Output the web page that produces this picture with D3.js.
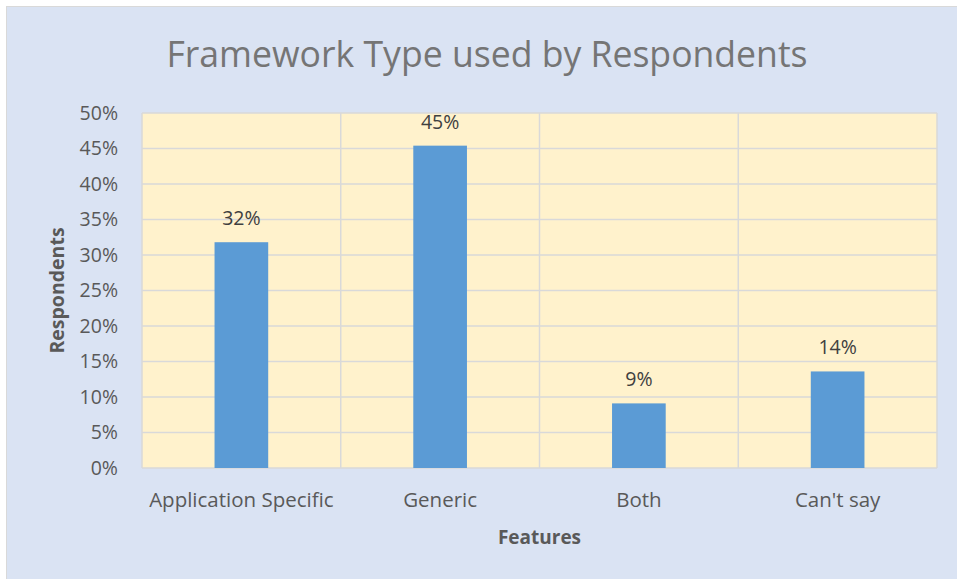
<!DOCTYPE html>
<html>
<head>
    <title>Framework Type used by Respondents</title>
    <script src="https://d3js.org/d3.v7.min.js"></script>
    <style>
        body {
            margin: 0;
            background: #ffffff;
        }
        svg text {
            font-family: "Open Sans", Lato, sans-serif;
        }
    </style>
</head>
<body>
    <div id="chart"></div>

    <script>
        // chart data
        const categories = ["Application Specific", "Generic", "Both", "Can't say"];
        const shares = [0.318, 0.454, 0.091, 0.136];
        const yTicks = [0, 0.05, 0.10, 0.15, 0.20, 0.25, 0.30, 0.35, 0.40, 0.45, 0.50];

        const width = 957;
        const height = 579;
        const margin = {top: 113, right: 20, bottom: 111, left: 142};

        const svg = d3.select("#chart")
            .append("svg")
            .attr("width", width)
            .attr("height", height);

        // outer chart area
        svg.append("rect")
            .attr("x", 6.5)
            .attr("y", 6.5)
            .attr("width", width)
            .attr("height", height)
            .attr("fill", "#dae3f3")
            .attr("stroke", "#d9d9d9")
            .attr("stroke-width", 1);

        const x = d3.scaleBand()
            .domain(categories)
            .range([margin.left, width - margin.right])
            .paddingInner(0)
            .paddingOuter(0);

        const y = d3.scaleLinear()
            .domain([0, 0.5])
            .range([height - margin.bottom, margin.top]);

        const fmt = d3.format(".0%");

        // plot area
        svg.append("rect")
            .attr("x", x.range()[0])
            .attr("y", y(0.5))
            .attr("width", x.range()[1] - x.range()[0])
            .attr("height", y(0) - y(0.5))
            .attr("fill", "#fff2cc");

        // horizontal gridlines
        svg.append("g")
            .selectAll("line")
            .data(yTicks)
            .join("line")
            .attr("x1", x.range()[0])
            .attr("x2", x.range()[1])
            .attr("y1", d => y(d))
            .attr("y2", d => y(d))
            .attr("stroke", "#d9d9d9")
            .attr("stroke-width", 1.5);

        // vertical gridlines at category boundaries
        const bounds = categories.map(c => x(c)).concat([x.range()[1]]);
        svg.append("g")
            .selectAll("line")
            .data(bounds)
            .join("line")
            .attr("x1", d => d)
            .attr("x2", d => d)
            .attr("y1", y(0.5))
            .attr("y2", y(0))
            .attr("stroke", "#d9d9d9")
            .attr("stroke-width", 1.5);

        // bars
        const barW = x.bandwidth() * 0.27;
        svg.append("g")
            .selectAll("rect")
            .data(categories)
            .join("rect")
            .attr("x", d => x(d) + x.bandwidth() / 2 - barW / 2)
            .attr("y", (d, i) => y(shares[i]))
            .attr("width", barW)
            .attr("height", (d, i) => y(0) - y(shares[i]))
            .attr("fill", "#5b9bd5");

        // data labels
        svg.append("g")
            .selectAll("text")
            .data(categories)
            .join("text")
            .attr("x", d => x(d) + x.bandwidth() / 2)
            .attr("y", (d, i) => y(shares[i]) - 17)
            .attr("text-anchor", "middle")
            .attr("font-size", 19.5)
            .attr("fill", "#404040")
            .text((d, i) => fmt(shares[i]));

        // y axis labels
        const yAxis = d3.axisLeft(y)
            .tickValues(yTicks)
            .tickFormat(fmt)
            .tickSize(0)
            .tickPadding(24);

        svg.append("g")
            .attr("transform", `translate(${margin.left},0)`)
            .call(yAxis)
            .call(g => g.select(".domain").remove())
            .call(g => g.selectAll("text")
                .attr("font-family", null)
                .attr("font-size", 19.5)
                .attr("fill", "#595959"));

        // x axis labels
        const xAxis = d3.axisBottom(x)
            .tickSize(0)
            .tickPadding(24);

        svg.append("g")
            .attr("transform", `translate(0,${y(0)})`)
            .call(xAxis)
            .call(g => g.select(".domain").remove())
            .call(g => g.selectAll("text")
                .attr("font-family", null)
                .attr("font-size", 20.5)
                .attr("fill", "#595959"));

        // title
        svg.append("text")
            .attr("x", 487)
            .attr("y", 67)
            .attr("text-anchor", "middle")
            .attr("font-size", 35.6)
            .attr("fill", "#757575")
            .text("Framework Type used by Respondents");

        // axis titles
        svg.append("text")
            .attr("x", (x.range()[0] + x.range()[1]) / 2)
            .attr("y", 544)
            .attr("text-anchor", "middle")
            .attr("font-size", 19)
            .attr("font-weight", "bold")
            .attr("fill", "#595959")
            .text("Features");

        svg.append("text")
            .attr("transform", `translate(64,${(y(0) + y(0.5)) / 2}) rotate(-90)`)
            .attr("text-anchor", "middle")
            .attr("font-size", 19.5)
            .attr("font-weight", "bold")
            .attr("fill", "#595959")
            .text("Respondents");
    </script>
</body>
</html>
